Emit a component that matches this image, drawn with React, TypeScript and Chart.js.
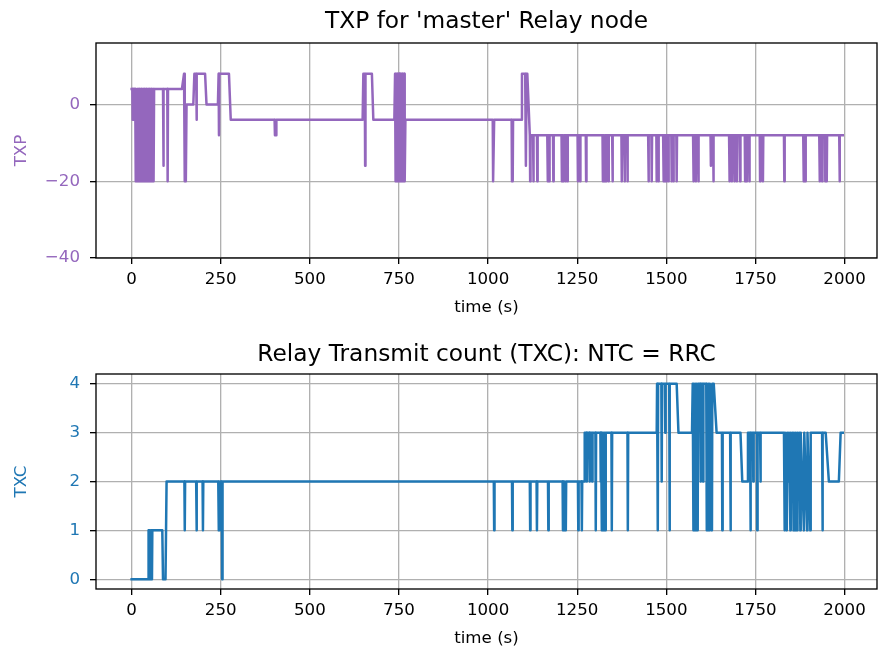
import React, { useEffect, useRef } from "react";
import { Chart, registerables } from "chart.js";

Chart.register(...registerables);

// ---------------- data ----------------
const xTicks = [0, 250, 500, 750, 1000, 1250, 1500, 1750, 2000];
const txpTicks = [-40, -20, 0];
const txcTicks = [0, 1, 2, 3, 4];

const txpTitle = "TXP for 'master' Relay node";
const txcTitle = "Relay Transmit count (TXC): NTC = RRC";

// TXP samples: [time (s), TXP]
const txpPoints: [number, number][] = [
  [0, 4], [2, 4], [3, -4], [4, 4], [6, -4], [7, 4], [9, -4], [10, 4], [11, -20], [12, 4], [14, -4], [15, 4],
  [16, -20], [17, 4], [18, -20], [19, 4], [20, -20], [21, 4], [22, -20], [23, 4], [24, -20], [25, 4], [26, -20],
  [27, 4], [28, -20], [29, 4], [30, -20], [31, 4], [32, -20], [33, 4], [34, -20], [35, 4], [36, -20], [37, 4],
  [38, -20], [39, 4], [40, -20], [41, 4], [42, -20], [43, 4], [44, -20], [45, 4], [46, -20], [47, 4], [48, -20],
  [49, 4], [50, -20], [51, 4], [52, -20], [53, 4], [54, -20], [55, 4], [56, -20], [57, 4], [58, -20], [59, 4],
  [60, -20], [61, 4], [62, -20], [63, 4],
  [88, 4], [89, -16], [90, 4], [100, 4], [101, -20], [102, 4],
  [141, 4], [147, 8], [149, -20], [152, -20], [154, 0],
  [173, 0], [176, 8], [181, 8], [182, -4], [183, 8], [206, 8], [210, 0], [242, 0], [244, 8], [245, -8], [246, 8],
  [273, 8], [278, -4],
  [401, -4], [402, -8], [405, -8], [406, -4],
  [648, -4], [650, 8], [654, 8], [655, -16], [656, 8], [674, 8], [678, -4],
  [737, -4], [739, 8], [740, -20], [741, 8], [742, -20], [743, 8], [744, -20], [745, 8], [746, -20], [747, 8],
  [748, -20], [749, 8], [750, -20], [751, 8], [752, -20], [753, 8], [754, -20], [755, 8], [756, -20], [757, 8],
  [758, -20], [759, 8], [760, -20], [761, 8], [762, -20], [763, 8], [764, -20], [765, 8], [766, -20], [768, -4],
  [1013, -4], [1014, -20], [1016, -20], [1017, -4],
  [1066, -4], [1067, -20], [1069, -20], [1070, -4],
  [1093, -4], [1095, 8], [1104, 8], [1106, -16], [1108, 8], [1110, 8], [1117, -8],
  [1118, -20], [1119, -8], [1126, -8], [1127, -20], [1128, -8], [1137, -8], [1138, -20], [1139, -8],
  [1166, -8], [1167, -20], [1168, -8], [1171, -8], [1172, -20], [1173, -8], [1182, -8], [1183, -20], [1184, -8],
  [1206, -8], [1207, -20], [1208, -8], [1210, -8], [1211, -20], [1212, -8], [1217, -8], [1218, -20], [1219, -8],
  [1222, -8], [1223, -20], [1224, -8], [1251, -8], [1252, -20], [1253, -8], [1257, -8], [1258, -20], [1259, -8],
  [1274, -8], [1275, -20], [1276, -8], [1321, -8], [1322, -20], [1323, -8], [1325, -8], [1326, -20], [1327, -8],
  [1330, -8], [1331, -20], [1332, -8], [1337, -8], [1338, -20], [1339, -8], [1348, -8], [1349, -20], [1350, -8],
  [1374, -8], [1375, -20], [1376, -8], [1382, -8], [1383, -20], [1384, -8], [1390, -8], [1391, -20], [1392, -8],
  [1449, -8], [1450, -20], [1451, -8], [1458, -8], [1459, -20], [1460, -8], [1472, -8], [1473, -20], [1474, -8],
  [1477, -8], [1478, -20], [1479, -8], [1491, -8], [1492, -20], [1493, -8], [1496, -8], [1497, -20], [1498, -8],
  [1500, -8], [1501, -20], [1502, -8], [1505, -8], [1506, -20], [1507, -8], [1514, -8], [1515, -20], [1516, -8],
  [1519, -8], [1520, -20], [1521, -8], [1528, -8], [1529, -20], [1530, -8], [1575, -8], [1576, -20], [1577, -8],
  [1582, -8], [1583, -20], [1584, -8], [1589, -8], [1590, -20], [1591, -8], [1624, -8], [1625, -16], [1626, -8],
  [1631, -8], [1632, -20], [1633, -8], [1676, -8], [1677, -20], [1678, -8], [1683, -8], [1684, -20], [1685, -8],
  [1690, -8], [1691, -20], [1692, -8], [1697, -8], [1698, -20], [1699, -8], [1706, -8], [1707, -20], [1708, -8],
  [1720, -8], [1721, -20], [1722, -8], [1725, -8], [1726, -20], [1727, -8], [1732, -8], [1733, -20], [1734, -8],
  [1762, -8], [1763, -20], [1764, -8], [1770, -8], [1771, -20], [1772, -8], [1830, -8], [1831, -20], [1832, -8],
  [1884, -8], [1885, -20], [1886, -8], [1889, -8], [1890, -20], [1891, -8], [1929, -8], [1930, -20], [1931, -8],
  [1936, -8], [1937, -20], [1938, -8], [1945, -8], [1946, -20], [1947, -8], [1949, -8], [1950, -20], [1951, -8],
  [1985, -8], [1986, -20], [1987, -8], [1995, -8],
];

// TXC samples: [time (s), TXC]
const txcPoints: [number, number][] = [
  [0, 0], [46, 0], [47, 1], [48, 0], [49, 1], [50, 0], [51, 1], [53, 0], [54, 1], [56, 1], [57, 0], [58, 1],
  [86, 1], [88, 0], [95, 0], [98, 2],
  [148, 2], [149, 1], [150, 2], [181, 2], [182, 1], [183, 2], [199, 2], [200, 1], [201, 2],
  [243, 2], [244, 1], [245, 2], [247, 1], [248, 2], [251, 2], [252, 1], [253, 2], [254, 0], [255, 2],
  [1016, 2], [1017, 1], [1018, 2], [1067, 2], [1068, 1], [1069, 2], [1117, 2], [1118, 1], [1119, 2],
  [1136, 2], [1137, 1], [1138, 2], [1168, 2], [1169, 1], [1170, 2],
  [1209, 2], [1210, 1], [1211, 2], [1213, 1], [1214, 2], [1218, 1], [1219, 2],
  [1252, 2], [1253, 1], [1254, 2], [1262, 2], [1263, 1], [1264, 2],
  [1270, 2], [1271, 3], [1276, 3], [1277, 2], [1278, 3], [1284, 3], [1285, 2], [1286, 3],
  [1291, 3], [1292, 2], [1293, 3], [1301, 3], [1302, 1], [1303, 3],
  [1315, 3], [1316, 2], [1317, 3], [1319, 1], [1320, 3], [1323, 1], [1324, 3], [1326, 2], [1327, 3], [1329, 1], [1330, 3],
  [1346, 3], [1347, 1], [1348, 3], [1391, 3], [1392, 1], [1393, 3],
  [1473, 3], [1474, 4], [1476, 1], [1477, 4], [1486, 4], [1487, 2], [1488, 4], [1496, 4], [1497, 3], [1498, 4],
  [1508, 4], [1509, 1], [1510, 4], [1529, 4], [1534, 3],
  [1572, 3], [1574, 4], [1576, 1], [1577, 4], [1580, 1], [1581, 4], [1584, 1], [1585, 4], [1588, 1], [1589, 4],
  [1595, 4], [1596, 2], [1597, 4], [1602, 4], [1603, 2], [1604, 4], [1612, 4], [1613, 1], [1614, 4],
  [1617, 1], [1618, 4], [1621, 1], [1622, 4], [1628, 1], [1629, 4], [1633, 4], [1641, 3],
  [1656, 3], [1657, 1], [1658, 3], [1679, 3], [1680, 1], [1681, 3],
  [1708, 3], [1713, 2], [1727, 2], [1729, 3], [1735, 3], [1736, 1], [1737, 3], [1743, 3], [1744, 2], [1745, 3],
  [1754, 3], [1755, 1], [1756, 3], [1763, 3], [1764, 2], [1765, 3],
  [1830, 3], [1832, 1], [1833, 3], [1838, 1], [1839, 3], [1843, 2], [1844, 3], [1848, 1], [1849, 3],
  [1853, 2], [1854, 3], [1857, 1], [1858, 3], [1862, 1], [1863, 3], [1867, 1], [1868, 3], [1872, 2], [1873, 3],
  [1876, 1], [1877, 3], [1886, 1], [1887, 3], [1895, 1], [1896, 3], [1904, 1], [1905, 3],
  [1937, 3], [1938, 1], [1939, 3], [1947, 3], [1956, 2], [1984, 2], [1989, 3], [1995, 3],
];

// ---------------- styling ----------------
const FONT = "DejaVu Sans";
const TICK_SIZE = 16.67;
const TITLE_SIZE = 23.3;
const W = 881;
const H = 326;
const LW = 1.33;

const fmt = (v: number) => String(v).replace("-", "\u2212");

type PanelCfg = {
  points: [number, number][];
  color: string;
  yMin: number;
  yMax: number;
  yTicks: number[];
  yLabel: string;
  title: string;
  titleY: number;
  areaTop: number;
  xHeight: number;
  xTitlePad: number;
};

function buildConfig(p: PanelCfg): any {
  const framePlugin = {
    id: "mplFrame",
    afterDraw(chart: any) {
      const { ctx, chartArea } = chart;
      ctx.save();
      ctx.strokeStyle = "#000";
      ctx.lineWidth = LW;
      ctx.strokeRect(
        chartArea.left,
        chartArea.top,
        chartArea.right - chartArea.left,
        chartArea.bottom - chartArea.top
      );
      ctx.font = `${TITLE_SIZE}px "${FONT}"`;
      ctx.fillStyle = "#000";
      ctx.textAlign = "center";
      ctx.textBaseline = "middle";
      ctx.fillText(p.title, (chartArea.left + chartArea.right) / 2, p.titleY);
      ctx.restore();
    },
  };

  const grid = {
    color: "#b0b0b0",
    lineWidth: LW,
    tickColor: "#000",
    tickWidth: LW,
    tickLength: 6,
  };

  return {
    type: "line",
    data: {
      datasets: [
        {
          data: p.points.map(([x, y]) => ({ x, y })),
          borderColor: p.color,
          borderWidth: 2.5,
          pointRadius: 0,
          fill: false,
          tension: 0,
          borderJoinStyle: "round",
          borderCapStyle: "square",
        },
      ],
    },
    options: {
      animation: false,
      responsive: false,
      maintainAspectRatio: false,
      layout: { padding: { top: p.areaTop, right: 4, left: 0, bottom: 0 } },
      plugins: {
        legend: { display: false },
        tooltip: { enabled: false },
        title: { display: false },
      },
      scales: {
        x: {
          type: "linear",
          min: -100,
          max: 2091,
          afterBuildTicks: (s: any) => {
            s.ticks = xTicks.map((v) => ({ value: v }));
          },
          afterFit: (s: any) => {
            s.height = p.xHeight;
          },
          grid,
          border: { display: false },
          ticks: {
            color: "#000",
            font: { family: FONT, size: TICK_SIZE },
            padding: 6,
            maxRotation: 0,
            autoSkip: false,
            callback: (v: number) => fmt(v),
          },
          title: {
            display: true,
            text: "time (s)",
            color: "#000",
            font: { family: FONT, size: TICK_SIZE },
            padding: { top: 0, bottom: p.xTitlePad },
          },
        },
        y: {
          type: "linear",
          min: p.yMin,
          max: p.yMax,
          afterBuildTicks: (s: any) => {
            s.ticks = p.yTicks.map((v) => ({ value: v }));
          },
          afterFit: (s: any) => {
            s.width = 96;
          },
          grid,
          border: { display: false },
          ticks: {
            color: p.color,
            font: { family: FONT, size: TICK_SIZE },
            padding: 10,
            autoSkip: false,
            callback: (v: number) => fmt(v),
          },
          title: {
            display: true,
            text: p.yLabel,
            color: p.color,
            font: { family: FONT, size: TICK_SIZE },
            padding: { top: 12, bottom: 0 },
          },
        },
      },
    },
    plugins: [framePlugin],
  };
}

function Panel({ cfg }: { cfg: PanelCfg }) {
  const ref = useRef<HTMLCanvasElement>(null);
  useEffect(() => {
    const chart = new Chart(ref.current as HTMLCanvasElement, buildConfig(cfg));
    return () => chart.destroy();
  }, []);
  return (
    <canvas
      ref={ref}
      width={W}
      height={H}
      style={{ display: "block", width: W, height: H }}
    />
  );
}

const topCfg: PanelCfg = {
  points: txpPoints,
  color: "#9467bd",
  yMin: -40,
  yMax: 16,
  yTicks: txpTicks,
  yLabel: "TXP",
  title: txpTitle,
  titleY: 22,
  areaTop: 43,
  xHeight: 68,
  xTitlePad: 8,
};

const bottomCfg: PanelCfg = {
  points: txcPoints,
  color: "#1f77b4",
  yMin: -0.2,
  yMax: 4.2,
  yTicks: txcTicks,
  yLabel: "TXC",
  title: txcTitle,
  titleY: 29,
  areaTop: 48,
  xHeight: 63,
  xTitlePad: 3,
};

export default function App() {
  return (
    <div
      style={{
        position: "absolute",
        left: 0,
        top: 0,
        width: W,
        height: 2 * H,
        background: "#fff",
      }}
    >
      <Panel cfg={topCfg} />
      <Panel cfg={bottomCfg} />
    </div>
  );
}
